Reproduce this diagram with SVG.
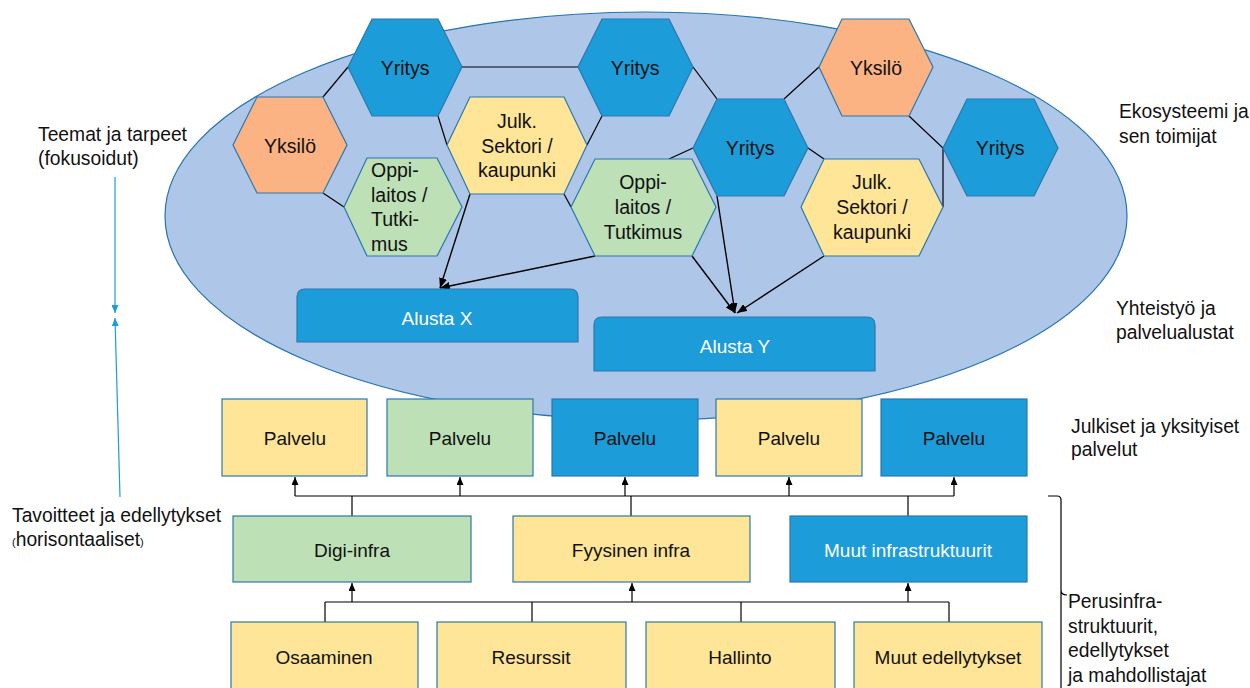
<svg xmlns="http://www.w3.org/2000/svg" width="1250" height="688" viewBox="0 0 1250 688">
<defs>
<style>
text{font-family:"Liberation Sans",Arial,sans-serif;fill:#111;}
.hx{font-size:19.5px;}
.bx{font-size:19px;text-anchor:middle;}
.lbl{font-size:19.3px;}
.w{fill:#fff;}
.c{text-anchor:middle;}
.blue{fill:#1c9cd8;stroke:#2b78ad;stroke-width:1.2;}
.org{fill:#fbb383;stroke:#2b78ad;stroke-width:1.2;}
.yel{fill:#ffe597;stroke:#2b78ad;stroke-width:1.2;}
.grn{fill:#bde0b6;stroke:#2b78ad;stroke-width:1.2;}
.ln{fill:none;stroke:#000;stroke-width:1.2;}
.ar{fill:none;stroke:#000;stroke-width:1.4;marker-end:url(#ah);}
.sa{fill:none;stroke:#000;stroke-width:1.2;marker-end:url(#sh);}
.ba{fill:none;stroke:#1c9cd8;stroke-width:1.2;marker-end:url(#bh);}
</style>
<marker id="ah" markerUnits="userSpaceOnUse" markerWidth="10" markerHeight="8" refX="10" refY="4" orient="auto"><path d="M0,0 L10,4 L0,8 Z" fill="#000"/></marker>
<marker id="sh" markerUnits="userSpaceOnUse" markerWidth="8" markerHeight="7" refX="8" refY="3.5" orient="auto"><path d="M0,0 L8,3.5 L0,7 Z" fill="#000"/></marker>
<marker id="bh" markerUnits="userSpaceOnUse" markerWidth="8" markerHeight="7" refX="8" refY="3.5" orient="auto"><path d="M0,0 L8,3.5 L0,7 Z" fill="#1c9cd8"/></marker>
</defs>

<g id="ecosystem">
<ellipse cx="646" cy="216" rx="481" ry="204" fill="#aec6e8" stroke="#2674b0" stroke-width="1.2"/>
</g>

<g id="connectors">
<line class="ln" x1="348" y1="67" x2="323" y2="97"/>
<line class="ln" x1="323" y1="193" x2="344" y2="207"/>
<line class="ln" x1="462" y1="67" x2="578" y2="67"/>
<line class="ln" x1="438" y1="116" x2="447" y2="145"/>
<line class="ln" x1="602" y1="116" x2="587" y2="145"/>
<line class="ln" x1="564" y1="194" x2="571" y2="207"/>
<line class="ln" x1="693" y1="67" x2="717" y2="99"/>
<line class="ln" x1="819" y1="67" x2="784" y2="99"/>
<line class="ln" x1="693" y1="148" x2="669" y2="159"/>
<line class="ln" x1="808" y1="148" x2="824" y2="159"/>
<polyline class="ln" points="909,116 943,148 943,207"/>
<line class="ar" x1="470" y1="194" x2="440" y2="288"/>
<line class="ar" x1="595" y1="256" x2="440" y2="288"/>
<line class="ar" x1="717" y1="196" x2="735" y2="313"/>
<line class="ar" x1="692" y1="256" x2="735" y2="313"/>
<line class="ar" x1="824" y1="256" x2="737" y2="313"/>
<!-- services bus -->
<polyline class="ln" points="295,496 954,496"/>
<line class="ln" x1="352" y1="516" x2="352" y2="496"/>
<line class="ln" x1="631" y1="516" x2="631" y2="496"/>
<line class="ln" x1="908" y1="516" x2="908" y2="496"/>
<line class="sa" x1="295" y1="496" x2="295" y2="477"/>
<line class="sa" x1="460" y1="496" x2="460" y2="477"/>
<line class="sa" x1="625" y1="496" x2="625" y2="477"/>
<line class="sa" x1="789" y1="496" x2="789" y2="477"/>
<line class="sa" x1="954" y1="496" x2="954" y2="477"/>
<!-- infra bus -->
<polyline class="ln" points="325,602 949,602"/>
<line class="ln" x1="325" y1="622" x2="325" y2="602"/>
<line class="ln" x1="532" y1="622" x2="532" y2="602"/>
<line class="ln" x1="741" y1="622" x2="741" y2="602"/>
<line class="ln" x1="949" y1="622" x2="949" y2="602"/>
<line class="sa" x1="352" y1="602" x2="352" y2="583"/>
<line class="sa" x1="632" y1="602" x2="632" y2="583"/>
<line class="sa" x1="908" y1="602" x2="908" y2="583"/>
<!-- left axis -->
<line class="ba" x1="115" y1="177" x2="115" y2="313"/>
<line class="ba" x1="120" y1="497" x2="115" y2="318"/>
<!-- right bracket -->
<path class="ln" d="M1048,496 H1057 Q1061,496 1061,500 V590 Q1061,595 1067,595 M1061,590 V688"/>
</g>

<g id="hex-yritys-1"><polygon class="blue" points="348,67 372,19 438,19 462,67 438,116 372,116"/><text class="hx c" x="405" y="75">Yritys</text></g>
<g id="hex-yksilo-1"><polygon class="org" points="233,145 257,97 323,97 347,145 323,193 257,193"/><text class="hx c" x="290" y="153">Yksilö</text></g>
<g id="hex-oppilaitos-1"><polygon class="grn" points="344,207 367,158 437,158 462,207 437,256 367,256"/><text class="hx" x="371"><tspan x="371" y="177">Oppi-</tspan><tspan x="371" y="202">laitos /</tspan><tspan x="371" y="226">Tutki-</tspan><tspan x="371" y="251">mus</tspan></text></g>
<g id="hex-julk-1"><polygon class="yel" points="447,145 470,97 564,97 587,145 564,194 470,194"/><text class="hx c"><tspan x="517" y="128">Julk.</tspan><tspan x="517" y="153">Sektori /</tspan><tspan x="517" y="177">kaupunki</tspan></text></g>
<g id="hex-yritys-2"><polygon class="blue" points="578,67 602,19 669,19 693,67 669,116 602,116"/><text class="hx c" x="635" y="75">Yritys</text></g>
<g id="hex-oppilaitos-2"><polygon class="grn" points="571,207 595,159 692,159 716,207 692,256 595,256"/><text class="hx c"><tspan x="643" y="189">Oppi-</tspan><tspan x="643" y="214">laitos /</tspan><tspan x="643" y="239">Tutkimus</tspan></text></g>
<g id="hex-yritys-3"><polygon class="blue" points="693,148 717,99 784,99 808,148 784,196 717,196"/><text class="hx c" x="750" y="155">Yritys</text></g>
<g id="hex-yksilo-2"><polygon class="org" points="819,67 842,19 909,19 933,67 909,116 842,116"/><text class="hx c" x="876" y="75">Yksilö</text></g>
<g id="hex-julk-2"><polygon class="yel" points="801,207 824,159 919,159 943,207 919,256 824,256"/><text class="hx c"><tspan x="872" y="189">Julk.</tspan><tspan x="872" y="214">Sektori /</tspan><tspan x="872" y="239">kaupunki</tspan></text></g>
<g id="hex-yritys-4"><polygon class="blue" points="943,148 967,99 1034,99 1058,148 1034,196 967,196"/><text class="hx c" x="1000" y="155">Yritys</text></g>

<g id="alusta-x"><path class="blue" d="M297,342 V297 Q297,289 305,289 H570 Q578,289 578,297 V342 Z"/><text class="bx w" x="437" y="325">Alusta X</text></g>
<g id="alusta-y"><path class="blue" d="M594,371 V325 Q594,317 602,317 H867 Q875,317 875,325 V371 Z"/><text class="bx w" x="735" y="353">Alusta Y</text></g>

<g id="palvelu-1"><rect class="yel" x="222" y="399" width="145" height="77"/><text class="bx" x="295" y="445">Palvelu</text></g>
<g id="palvelu-2"><rect class="grn" x="387" y="399" width="146" height="77"/><text class="bx" x="460" y="445">Palvelu</text></g>
<g id="palvelu-3"><rect class="blue" x="552" y="399" width="146" height="77"/><text class="bx" x="625" y="445">Palvelu</text></g>
<g id="palvelu-4"><rect class="yel" x="716" y="399" width="146" height="77"/><text class="bx" x="789" y="445">Palvelu</text></g>
<g id="palvelu-5"><rect class="blue" x="881" y="399" width="146" height="77"/><text class="bx" x="954" y="445">Palvelu</text></g>

<g id="digi-infra"><rect class="grn" x="233" y="516" width="238" height="66"/><text class="bx" x="352" y="557">Digi-infra</text></g>
<g id="fyysinen-infra"><rect class="yel" x="513" y="516" width="237" height="66"/><text class="bx" x="631" y="557">Fyysinen infra</text></g>
<g id="muut-infra"><rect class="blue" x="790" y="516" width="237" height="66"/><text class="bx w" x="908" y="557">Muut infrastruktuurit</text></g>

<g id="osaaminen"><rect class="yel" x="231" y="622" width="187" height="80"/><text class="bx" x="324" y="664">Osaaminen</text></g>
<g id="resurssit"><rect class="yel" x="437" y="622" width="189" height="80"/><text class="bx" x="531" y="664">Resurssit</text></g>
<g id="hallinto"><rect class="yel" x="646" y="622" width="189" height="80"/><text class="bx" x="740" y="664">Hallinto</text></g>
<g id="muut-edellytykset"><rect class="yel" x="854" y="622" width="188" height="80"/><text class="bx" x="948" y="664">Muut edellytykset</text></g>

<g id="labels">
<text class="lbl"><tspan x="38" y="141">Teemat ja tarpeet</tspan><tspan x="38" y="165">(fokusoidut)</tspan></text>
<text class="lbl"><tspan x="12" y="522">Tavoitteet ja edellytykset</tspan><tspan x="12" y="546"><tspan font-size="11">(</tspan>horisontaaliset<tspan font-size="11">)</tspan></tspan></text>
<text class="lbl"><tspan x="1119" y="118">Ekosysteemi ja</tspan><tspan x="1119" y="143">sen toimijat</tspan></text>
<text class="lbl"><tspan x="1116" y="315">Yhteistyö ja</tspan><tspan x="1116" y="339">palvelualustat</tspan></text>
<text class="lbl"><tspan x="1071" y="433">Julkiset ja yksityiset</tspan><tspan x="1071" y="456">palvelut</tspan></text>
<text class="lbl"><tspan x="1068" y="608">Perusinfra-</tspan><tspan x="1068" y="633">struktuurit,</tspan><tspan x="1068" y="657">edellytykset</tspan><tspan x="1068" y="682">ja mahdollistajat</tspan></text>
</g>
</svg>
